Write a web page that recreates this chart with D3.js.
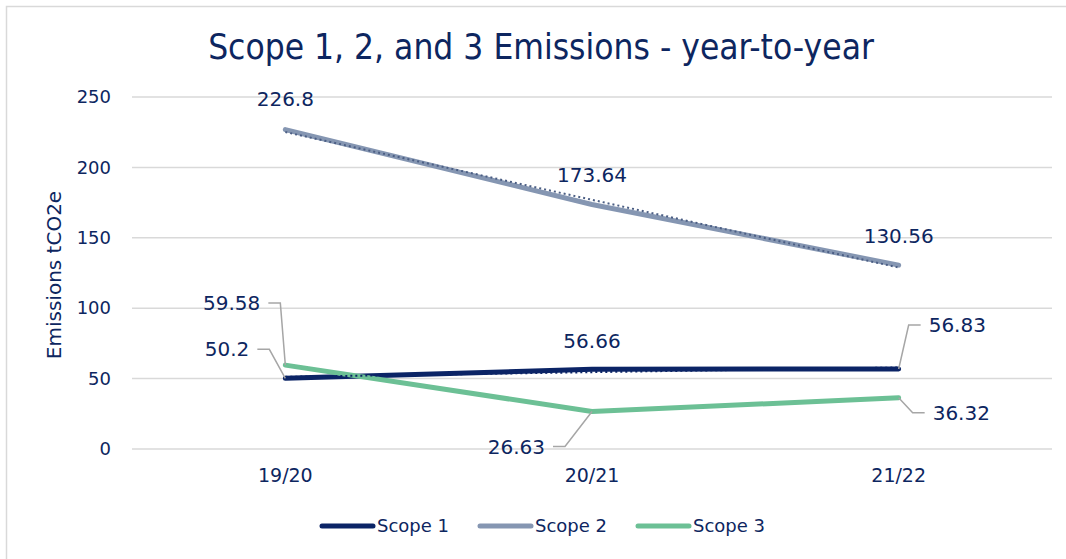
<!DOCTYPE html>
<html>
<head>
<meta charset="utf-8">
<script src="https://cdn.jsdelivr.net/npm/d3@7"></script>
<style>
  html, body { margin: 0; padding: 0; background: #fff; }
  svg text { font-family: "DejaVu Sans", sans-serif; }
  svg text.title { font-stretch: condensed; }
</style>
</head>
<body>
<div id="chart"></div>
<script>
// Chart data
const years = ["19/20", "20/21", "21/22"];
const scope1 = [50.2, 56.66, 56.83];
const scope2 = [226.8, 173.64, 130.56];
const scope3 = [59.58, 26.63, 36.32];
const yTicks = [0, 50, 100, 150, 200, 250];

const width = 1066, height = 559;
const textColour = "#0d2660";

const series = [
  { name: "Scope 1", values: scope1, colour: "#0b2466", trend: "#0b2466" },
  { name: "Scope 2", values: scope2, colour: "#8596b2", trend: "#4b5e84" },
  { name: "Scope 3", values: scope3, colour: "#6cc095", trend: null }
];

// label placement per series/point: [dx, dy, anchor, leader?]
const labelPos = {
  "Scope 1": [[-36, -29, "end", true], [0, -28, "middle", false], [30, -44, "start", true]],
  "Scope 2": [[0, -31, "middle", false], [0, -30, "middle", false], [0, -29, "middle", false]],
  "Scope 3": [[-25, -62, "end", true], [-47, 35, "end", true], [34, 15, "start", true]]
};

const svg = d3.select("#chart").append("svg")
  .attr("width", width)
  .attr("height", height)
  .attr("viewBox", [0, 0, width, height]);

// outer chart border (cut off on right and bottom)
svg.append("rect")
  .attr("x", 6.5).attr("y", 6.5)
  .attr("width", width + 10).attr("height", height + 10)
  .attr("fill", "none")
  .attr("stroke", "#d9d9d9")
  .attr("stroke-width", 1.5);

const x = d3.scaleBand().domain(years).range([132, 1052]);
const y = d3.scaleLinear().domain([0, 250]).range([449, 97]);
const cx = d => x(d) + x.bandwidth() / 2;

// title
svg.append("text")
  .attr("class", "title")
  .attr("x", 541)
  .attr("y", 59)
  .attr("text-anchor", "middle")
  .attr("font-size", "35px")
  .attr("fill", textColour)
  .text("Scope 1, 2, and 3 Emissions - year-to-year");

// gridlines
svg.append("g")
  .selectAll("line")
  .data(yTicks)
  .join("line")
  .attr("x1", 132).attr("x2", 1052)
  .attr("y1", d => y(d)).attr("y2", d => y(d))
  .attr("stroke", "#d9d9d9")
  .attr("stroke-width", 1.5);

// y axis
const yAxis = svg.append("g")
  .attr("transform", "translate(132,0)")
  .call(d3.axisLeft(y).tickValues(yTicks).tickSize(0).tickPadding(21));
yAxis.select(".domain").remove();
yAxis.selectAll("text")
  .attr("font-size", "18px")
  .attr("fill", textColour)
  .style("font-family", '"DejaVu Sans", sans-serif');

// x axis
const xAxis = svg.append("g")
  .attr("transform", "translate(0,449)")
  .call(d3.axisBottom(x).tickSize(0).tickPadding(20));
xAxis.select(".domain").remove();
xAxis.selectAll("text")
  .attr("font-size", "19px")
  .attr("fill", textColour)
  .style("font-family", '"DejaVu Sans", sans-serif');

// y axis title
svg.append("text")
  .attr("transform", "translate(61,275) rotate(-90)")
  .attr("text-anchor", "middle")
  .attr("font-size", "20px")
  .attr("fill", textColour)
  .text("Emissions tCO2e");

const line = d3.line()
  .x((d, i) => cx(years[i]))
  .y(d => y(d));

// series lines
series.forEach(s => {
  svg.append("path")
    .datum(s.values)
    .attr("d", line)
    .attr("fill", "none")
    .attr("stroke", s.colour)
    .attr("stroke-width", 5)
    .attr("stroke-linecap", "round")
    .attr("stroke-linejoin", "round");
});

// linear trendlines (least squares on the series values)
series.filter(s => s.trend).forEach(s => {
  const n = s.values.length;
  const xs = d3.range(n);
  const mx = d3.mean(xs), my = d3.mean(s.values);
  const slope = d3.sum(xs, i => (i - mx) * (s.values[i] - my)) / d3.sum(xs, i => (i - mx) ** 2);
  const trend = xs.map(i => my + slope * (i - mx));
  svg.append("path")
    .datum(trend)
    .attr("d", line)
    .attr("fill", "none")
    .attr("stroke", s.trend)
    .attr("stroke-width", 2)
    .attr("stroke-dasharray", "2,3");
});

// data labels with leader lines
const labels = svg.append("g");
series.forEach(s => {
  s.values.forEach((v, i) => {
    const [dx, dy, anchor, leader] = labelPos[s.name][i];
    const px = cx(years[i]), py = y(v);
    const tx = px + dx, ty = py + dy;
    if (leader) {
      const dir = anchor === "end" ? 1 : -1;
      const hx = tx + dir * 8;
      const kx = hx + dir * 12;
      labels.append("path")
        .attr("d", `M${hx},${ty}H${kx}L${px},${py}`)
        .attr("fill", "none")
        .attr("stroke", "#a6a6a6")
        .attr("stroke-width", 1.5);
    }
    labels.append("text")
      .attr("x", tx)
      .attr("y", ty)
      .attr("dy", "0.35em")
      .attr("text-anchor", anchor)
      .attr("font-size", "20px")
      .attr("fill", textColour)
      .text(v);
  });
});

// legend
const legendX = [322, 480, 638];
const legend = svg.append("g");
series.forEach((s, i) => {
  legend.append("line")
    .attr("x1", legendX[i]).attr("x2", legendX[i] + 51)
    .attr("y1", 526).attr("y2", 526)
    .attr("stroke", s.colour)
    .attr("stroke-width", 5)
    .attr("stroke-linecap", "round");
  legend.append("text")
    .attr("x", legendX[i] + 55)
    .attr("y", 526)
    .attr("dy", "0.35em")
    .attr("font-size", "18px")
    .attr("fill", textColour)
    .text(s.name);
});
</script>
</body>
</html>
